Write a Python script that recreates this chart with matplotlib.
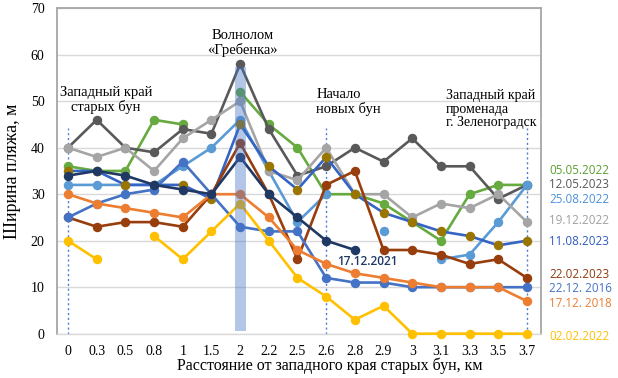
import matplotlib
matplotlib.use('Agg')
import matplotlib.pyplot as plt
import numpy as np

nan = float('nan')

distances = ['0', '0.3', '0.5', '0.8', '1', '1.5', '2', '2.2', '2.5', '2.6',
             '2.8', '2.9', '3', '3.1', '3.3', '3.5', '3.7']

w_05_05_2022 = [36, 35, 35, 46, 45, nan, 52, 45, 40, 30, 30, 28, 24, 20, 30, 32, 32]
w_12_05_2023 = [40, 46, 40, 39, 44, 43, 58, 44, 34, 36, 40, 37, 42, 36, 36, 29, 32]
w_25_08_2022 = [32, 32, 32, 32, 36, 40, 46, 35, 24, 30, nan, 22, nan, 16, 17, 24, 32]
w_19_12_2022 = [40, 38, 40, 35, 42, 46, 50, 35, 33, 40, 30, 30, 25, 28, 27, 30, 24]
w_11_08_2023 = [35, 35, 32, 32, 32, 29, 45, 36, 31, 38, 30, 26, 24, 22, 21, 19, 20]
w_22_02_2023 = [25, 23, 24, 24, 23, 30, 41, 30, 16, 32, 35, 18, 18, 17, 15, 16, 12]
w_22_12_2016 = [25, 28, 30, 31, 37, 30, 23, 22, 22, 12, 11, 11, 10, 10, 10, 10, 10]
w_17_12_2018 = [30, 28, 27, 26, 25, 30, 30, 25, 18, 15, 13, 12, 11, 10, 10, 10, 7]
w_02_02_2022 = [20, 16, nan, 21, 16, 22, 28, 20, 12, 8, 3, 6, 0, 0, 0, 0, 0]
w_17_12_2021 = [34, 35, 34, 32, 31, 30, 38, 30, 25, 20, 18, nan, nan, nan, nan, nan, nan]

series_labels = ['05.05.2022', '12.05.2023', '25.08.2022', '19.12.2022', '11.08.2023',
                 '22.02.2023', '22.12. 2016', '17.12. 2018', '02.02.2022', '17.12.2021']
label_y = [35.2, 32.0, 28.8, 24.3, 19.8, 12.8, 9.8, 6.6, -0.5, 15.5]

series = [w_05_05_2022, w_12_05_2023, w_25_08_2022, w_19_12_2022, w_11_08_2023,
          w_22_02_2023, w_22_12_2016, w_17_12_2018, w_02_02_2022, w_17_12_2021]
line_colors = ['#66aa40', '#595959', '#5b9bd5', '#a5a5a5', '#3464c4',
               '#983d0c', '#4472c4', '#ed7d31', '#ffc000', '#203864']
marker_colors = ['#66aa40', '#595959', '#5b9bd5', '#a5a5a5', '#9a7600',
                 '#983d0c', '#4472c4', '#ed7d31', '#ffc000', '#203864']
text_colors = ['#5a9e30', '#595959', '#4a90d9', '#a0a0a0', '#2f5bbf',
               '#8e3a0e', '#4472c4', '#ed7d31', '#ffc000', '#203864']

serif = ['Liberation Serif', 'DejaVu Serif']
sans = ['Open Sans', 'DejaVu Sans']

fig = plt.figure(figsize=(6.18, 3.78), dpi=100)
ax = fig.add_axes([57/618, 1-333.7/378, (541-57)/618, (333.7-8.2)/378])

x = np.arange(len(distances))
for ys, lc, mc in zip(series, line_colors, marker_colors):
    ax.plot(x, ys, color=lc, lw=1.9, marker='o', ms=5.8, mfc=mc, mec=mc,
            clip_on=False, zorder=3)

# highlight band for the breakwater
ax.bar(6, 57.3 - 0.5, bottom=0.5, width=0.38, color='#4472c4', alpha=0.4,
       zorder=5, linewidth=0)

# dotted vertical markers
for xi in [0, 9, 16]:
    ax.plot([xi, xi], [0, 44.3], color='#4a7fd0', lw=1.0, ls=(0, (1.5, 2)), zorder=2)

ax.set_xlim(-0.384, 16.49)
ax.set_ylim(0, 70)
ax.set_yticks(np.arange(0, 71, 10))
ax.set_xticks(x)
ax.set_xticklabels(distances, fontfamily=serif, fontsize=10)
for t in ax.get_yticklabels():
    t.set_fontfamily(serif)
    t.set_fontsize(10)
ax.tick_params(axis='both', length=0, colors='#000000')
ax.tick_params(axis='y', pad=9)
ax.tick_params(axis='x', pad=8)
ax.yaxis.grid(True, color='#d9d9d9', lw=1.0, zorder=0)
ax.set_axisbelow(True)
for s in ['left', 'right', 'top']:
    ax.spines[s].set_color('#a6a6a6')
    ax.spines[s].set_linewidth(1.3)
ax.spines['bottom'].set_color('#d9d9d9')
ax.spines['bottom'].set_linewidth(1.0)

# right-side labels
for i, (lab, yv, tc) in enumerate(zip(series_labels[:9], label_y[:9], text_colors[:9])):
    ax.text(16.77, yv, lab, color=tc, fontsize=8.4, fontfamily=sans,
            ha='left', va='center', clip_on=False)
ax.text(10.43, label_y[9], series_labels[9], color=text_colors[9], fontsize=8.6,
        fontfamily=sans, ha='center', va='center', fontweight='semibold')

# annotations
ax.text(6.08, 62.6, 'Волнолом\n«Гребенка»', fontfamily=serif, fontsize=10.5,
        ha='center', va='center', linespacing=1.1)
ax.text(1.33, 50.2, 'Западный край\nстарых бун', fontfamily=serif, fontsize=10.5,
        ha='center', va='center', linespacing=1.1)
ax.text(8.66, 49.8, 'Начало\nновых бун', fontfamily=serif, fontsize=10.5,
        ha='left', va='center', linespacing=1.1)
ax.text(13.17, 48.3, 'Западный край\nпроменада\nг. Зеленоградск', fontfamily=serif,
        fontsize=10, ha='left', va='center', linespacing=1.05)

fig.text(330/618, 1-366/378, 'Расстояние от западного края старых бун, км',
         fontfamily=serif, fontsize=11.5, ha='center', va='center')
fig.text(13/618, 1-171/378, 'Ширина пляжа, м', fontfamily=serif, fontsize=13,
         ha='center', va='center', rotation=90)

fig.savefig('out.png', dpi=100)
